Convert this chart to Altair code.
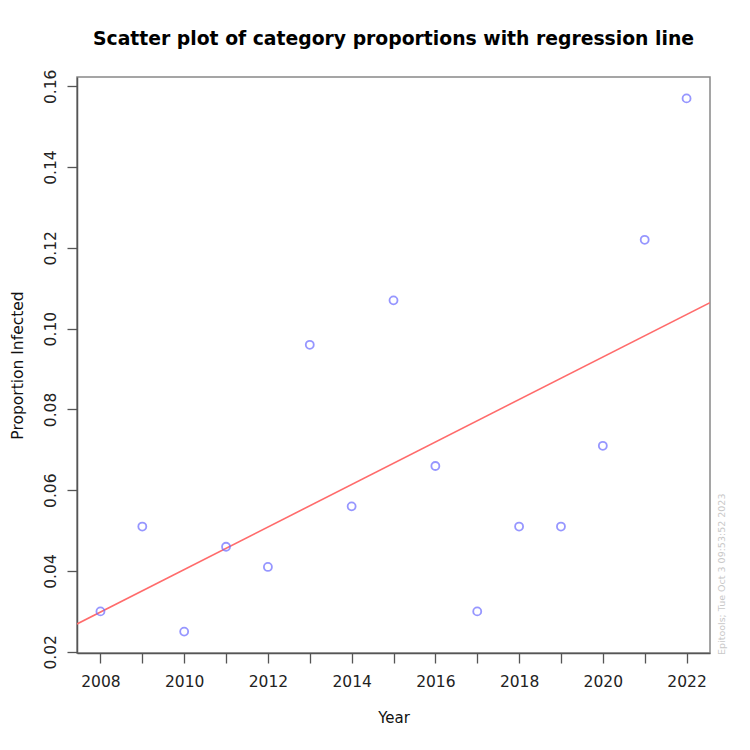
import altair as alt
import pandas as pd

years = list(range(2008, 2023))
proportions = [0.030, 0.051, 0.025, 0.046, 0.041, 0.096, 0.056, 0.107,
               0.066, 0.030, 0.051, 0.051, 0.071, 0.122, 0.157]
x_ticks = list(range(2008, 2023))
y_ticks = [0.02, 0.04, 0.06, 0.08, 0.10, 0.12, 0.14, 0.16]
x_domain = [2007.44, 2022.56]
y_domain = [0.0197, 0.1623]
watermark = "Epitools; Tue Oct  3 09:53:52 2023"

df = pd.DataFrame({"Year": years, "Proportion": proportions})

FONT = "DejaVu Sans"

x_enc = alt.X("Year:Q", scale=alt.Scale(domain=x_domain, nice=False, zero=False),
              axis=alt.Axis(values=x_ticks, title="Year", grid=False, domain=True,
                            domainColor="#555", domainWidth=1.5,
                            tickSize=10, tickColor="#555", tickWidth=1.3,
                            labelExpr="datum.value % 2 == 0 ? datum.value : ''",
                            labelFont=FONT, labelFontSize=15.5, labelColor="#222",
                            labelPadding=11, titleFont=FONT, titleFontSize=15,
                            titleFontWeight="normal", titleColor="#111", titlePadding=21,
                            format="d"))
y_enc = alt.Y("Proportion:Q", scale=alt.Scale(domain=y_domain, nice=False, zero=False),
              axis=alt.Axis(values=y_ticks, title="Proportion Infected", grid=False,
                            domain=True, domainColor="#555", domainWidth=1.5,
                            tickSize=10, tickColor="#555", tickWidth=1.3,
                            labelAngle=-90, labelAlign="center", labelBaseline="bottom",
                            labelFont=FONT, labelFontSize=15.5, labelColor="#222",
                            labelPadding=9, format=".2f", titleFont=FONT, titleFontSize=15.5,
                            titleFontWeight="normal", titleColor="#111", titlePadding=18))

points = alt.Chart(df).mark_point(shape="circle", filled=False, color="#6b6bff",
                                  size=64, strokeWidth=1.8).encode(x=x_enc, y=y_enc)

line = alt.Chart(df).transform_regression(
    "Year", "Proportion", extent=x_domain
).mark_line(color="#ff6b6b", strokeWidth=1.6, clip=True).encode(x=x_enc, y=y_enc)

wm = alt.Chart(pd.DataFrame({"t": [watermark]})).mark_text(
    angle=270, align="left", baseline="middle", fontSize=9.5, color="#c8c8c8", font=FONT
).encode(text="t:N", x=alt.value(645), y=alt.value(578))

chart = alt.layer(line, points, wm).properties(
    width=633, height=576,
    title=alt.TitleParams("Scatter plot of category proportions with regression line",
                          font=FONT, fontSize=18.8, fontWeight="bold", color="#000",
                          anchor="middle", offset=20),
    padding={"left": 69, "top": 69, "right": 30, "bottom": 85},
    autosize=alt.AutoSizeParams(type="none"),
).configure_view(stroke="#888", strokeWidth=1.5)

chart.save("out.html", embed_options={"renderer": "svg", "actions": False})
